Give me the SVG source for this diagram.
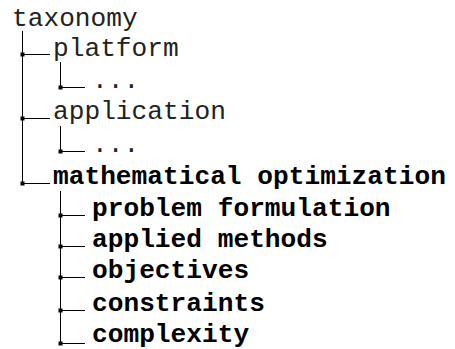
<svg xmlns="http://www.w3.org/2000/svg" width="455" height="349" viewBox="0 0 455 349">
<style>
text{font-family:"Liberation Mono","Courier New",monospace;font-size:26.2px;fill:#000}
.n{fill:#222}
.b{font-weight:bold}
.c path{fill:none;stroke:#000;stroke-width:1}
.c rect{fill:#000}
</style>
<rect width="455" height="349" fill="#fff"/>
<g class="c" id="connectors">
<path d="M22.5 31V183.5H50"/>
<path d="M22.5 54.5H50"/>
<path d="M22.5 118.5H50"/>
<path d="M60.5 62V87.5H85"/>
<path d="M60.5 126V151.5H85"/>
<path d="M60.5 191V343.5H85"/>
<path d="M60.5 215.5H85"/>
<path d="M60.5 246.5H85"/>
<path d="M60.5 277.5H85"/>
<path d="M60.5 310.5H85"/>
<rect x="20.5" y="52.5" width="4" height="4"/>
<rect x="20.5" y="116.5" width="4" height="4"/>
<rect x="20.5" y="181.5" width="4" height="4"/>
<rect x="58.5" y="85.5" width="4" height="4"/>
<rect x="58.5" y="149.5" width="4" height="4"/>
<rect x="58.5" y="213.5" width="4" height="4"/>
<rect x="58.5" y="244.5" width="4" height="4"/>
<rect x="58.5" y="275.5" width="4" height="4"/>
<rect x="58.5" y="308.5" width="4" height="4"/>
<rect x="58.5" y="341.5" width="4" height="4"/>
</g>
<g id="taxonomy"><text class="n" x="12" y="26">taxonomy</text></g>
<g id="platform"><text class="n" x="53" y="56">platform</text></g>
<g id="platform-more"><text class="n" x="92" y="88">...</text></g>
<g id="application"><text class="n" x="53" y="119">application</text></g>
<g id="application-more"><text class="n" x="92" y="152">...</text></g>
<g id="math-opt"><text class="b" x="53" y="184">mathematical optimization</text></g>
<g id="problem-formulation"><text class="b" x="92" y="216">problem formulation</text></g>
<g id="applied-methods"><text class="b" x="92" y="247">applied methods</text></g>
<g id="objectives"><text class="b" x="92" y="278">objectives</text></g>
<g id="constraints"><text class="b" x="92" y="311">constraints</text></g>
<g id="complexity"><text class="b" x="92" y="342">complexity</text></g>
</svg>
